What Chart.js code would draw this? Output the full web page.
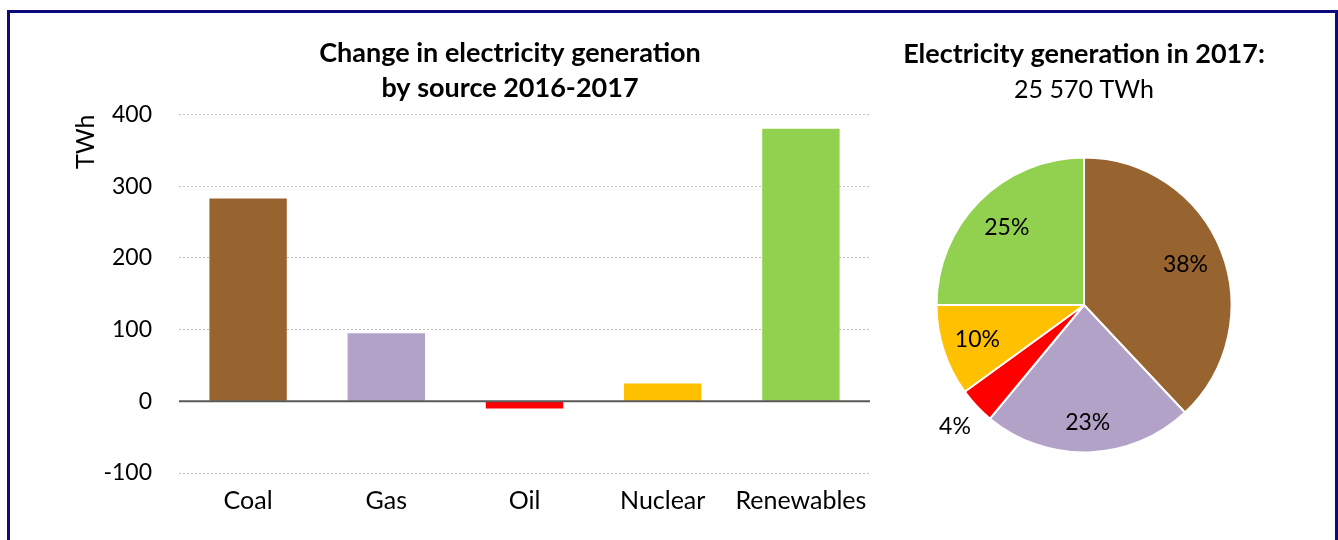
<!DOCTYPE html>
<html>
<head>
<meta charset="utf-8">
<script src="https://cdn.jsdelivr.net/npm/chart.js@4.4.1/dist/chart.umd.min.js"></script>
<style>
  html, body { margin: 0; padding: 0; background: #fff; }
  body { width: 1338px; height: 540px; position: relative; overflow: hidden; }
  #frame { position: absolute; left: 7px; top: 10px; width: 1325px; height: 600px; border: 3px solid #0B0B7E; box-sizing: content-box; }
  #barCanvas { position: absolute; left: 0; top: 0; }
  #pieCanvas { position: absolute; left: 900px; top: 0; }
</style>
</head>
<body>
<div id="frame"></div>
<canvas id="barCanvas" width="1020" height="540"></canvas>
<canvas id="pieCanvas" width="438" height="540"></canvas>
<script>
// ---- data ----
const categories = ['Coal', 'Gas', 'Oil', 'Nuclear', 'Renewables'];
const changeTWh = [283, 95, -10, 25, 380];
const sourceColors = ['#97632F', '#B3A2C7', '#FF0000', '#FFC000', '#92D050'];
const yTicks = [-100, 0, 100, 200, 300, 400];
const barTitle = ['Change in electricity generation', 'by source 2016-2017'];
const yAxisTitle = 'TWh';

const pieShares = [38, 23, 4, 10, 25];
const pieTitle = 'Electricity generation in 2017:';
const pieSubtitle = '25 570 TWh';

const FONT = 'Lato, "Noto Sans", sans-serif';
Chart.defaults.font.family = FONT;
Chart.defaults.color = '#000';

// zero line drawn on top of the bars
const zeroLine = {
  id: 'zeroLine',
  afterDatasetsDraw(chart) {
    const y = chart.scales.y.getPixelForValue(0);
    const {left, right} = chart.chartArea;
    const ctx = chart.ctx;
    ctx.save();
    ctx.strokeStyle = '#595959';
    ctx.lineWidth = 2;
    ctx.beginPath();
    ctx.moveTo(left, y);
    ctx.lineTo(right, y);
    ctx.stroke();
    ctx.restore();
  }
};

new Chart(document.getElementById('barCanvas'), {
  type: 'bar',
  data: {
    labels: categories,
    datasets: [{
      data: changeTWh,
      backgroundColor: sourceColors,
      borderWidth: 0,
      categoryPercentage: 1,
      barPercentage: 0.56
    }]
  },
  plugins: [zeroLine],
  options: {
    responsive: false,
    animation: false,
    layout: { padding: { left: 0, right: 0, top: 0, bottom: 11 } },
    plugins: {
      legend: { display: false },
      tooltip: { enabled: false },
      title: {
        display: true,
        text: barTitle,
        color: '#000',
        font: { family: FONT, size: 27, weight: 'bold', lineHeight: '35px' },
        padding: { top: 36, bottom: 8.5 }
      }
    },
    scales: {
      x: {
        grid: { display: false, drawTicks: false },
        border: { display: false },
        ticks: { color: '#000', font: { size: 25 }, padding: 13 }
      },
      y: {
        min: -100, max: 400,
        afterBuildTicks(scale) { scale.ticks = yTicks.map(v => ({ value: v })); },
        afterFit(scale) { scale.width = 179; },
        grid: { color: '#BFBFBF', lineWidth: 1, drawTicks: false },
        border: { display: false, dash: [2, 2] },
        ticks: { color: '#000', font: { size: 23 }, padding: 27,
                 callback: v => (v < 0 ? '-' + Math.abs(v) : String(v)) },
        title: {
          display: true, text: yAxisTitle, align: 'end', color: '#000',
          font: { size: 25, lineHeight: '30px' }, padding: { top: 71, bottom: 0 }
        }
      },
      yPad: {
        type: 'linear', position: 'right', display: true,
        grid: { display: false, drawTicks: false },
        border: { display: false },
        ticks: { display: false },
        afterFit(scale) { scale.width = 150; }
      }
    }
  }
});

const pieLabelRadius = [0.74, 0.8, 1.2, 0.76, 0.74];
const pieLabels = {
  id: 'pieLabels',
  afterDatasetsDraw(chart) {
    const ctx = chart.ctx;
    const meta = chart.getDatasetMeta(0);
    ctx.save();
    ctx.fillStyle = '#000';
    ctx.font = '23px ' + FONT;
    ctx.textAlign = 'center';
    ctx.textBaseline = 'middle';
    meta.data.forEach((arc, i) => {
      const {x, y, startAngle, endAngle, outerRadius} = arc.getProps(['x', 'y', 'startAngle', 'endAngle', 'outerRadius'], true);
      const mid = (startAngle + endAngle) / 2;
      const r = outerRadius * pieLabelRadius[i];
      ctx.fillText(pieShares[i] + '%', x + Math.cos(mid) * r, y + Math.sin(mid) * r);
    });
    ctx.restore();
  }
};

new Chart(document.getElementById('pieCanvas'), {
  type: 'pie',
  data: {
    labels: categories,
    datasets: [{
      data: pieShares,
      backgroundColor: sourceColors,
      borderColor: '#fff',
      borderWidth: 2
    }]
  },
  plugins: [pieLabels],
  options: {
    responsive: false,
    animation: false,
    layout: { padding: { left: 0, right: 70, top: 0, bottom: 86.5 } },
    plugins: {
      legend: { display: false },
      tooltip: { enabled: false },
      title: {
        display: true, text: pieTitle, color: '#000',
        font: { family: FONT, size: 27, weight: 'bold', lineHeight: '36px' },
        padding: { top: 36, bottom: 0 }
      },
      subtitle: {
        display: true, text: pieSubtitle, color: '#000',
        font: { family: FONT, size: 25, weight: 'normal', lineHeight: '36px' },
        padding: { top: 0, bottom: 48.5 }
      }
    }
  }
});
</script>
</body>
</html>
